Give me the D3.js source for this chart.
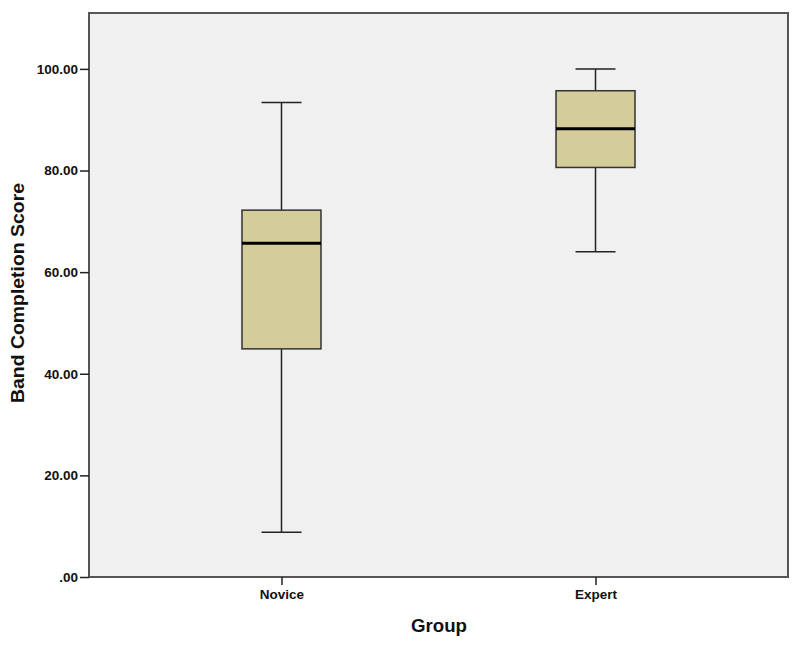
<!DOCTYPE html>
<html><head><meta charset="utf-8">
<script src="https://cdn.jsdelivr.net/npm/d3@7"></script>
<style>body{margin:0;background:#fff}svg{display:block}</style>
</head><body>
<svg id="c" width="800" height="645"></svg>
<script>
const categories = ["Novice", "Expert"];
const whiskerLow = [8.8, 64.0];
const q1 = [44.9, 80.6];
const median = [65.7, 88.2];
const q3 = [72.2, 95.7];
const whiskerHigh = [93.4, 100.0];
const yTicks = [0, 20, 40, 60, 80, 100];
const yTickLabels = [".00", "20.00", "40.00", "60.00", "80.00", "100.00"];

const svg = d3.select("#c");
const L = 89, R = 788, T = 13, B = 577;
const y = d3.scaleLinear().domain([0, 111]).range([B, T]);
const x = d3.scalePoint().domain(categories).range([L, R]).padding(0.613);
const boxW = 79, capW = 40;
const FONT = "Liberation Sans, Arial, sans-serif";

svg.append("rect").attr("x", L).attr("y", T).attr("width", R - L).attr("height", B - T)
  .attr("fill", "#f0f0f0").attr("stroke", "#555").attr("stroke-width", 2);

const data = categories.map((c, i) => ({c, lo: whiskerLow[i], q1: q1[i], med: median[i], q3: q3[i], hi: whiskerHigh[i]}));
const g = svg.append("g");
data.forEach(d => {
  const cx = x(d.c);
  g.append("line").attr("x1", cx).attr("x2", cx).attr("y1", y(d.hi)).attr("y2", y(d.q3)).attr("stroke", "#222").attr("stroke-width", 1.5);
  g.append("line").attr("x1", cx).attr("x2", cx).attr("y1", y(d.q1)).attr("y2", y(d.lo)).attr("stroke", "#222").attr("stroke-width", 1.5);
  g.append("line").attr("x1", cx - capW/2).attr("x2", cx + capW/2).attr("y1", y(d.hi)).attr("y2", y(d.hi)).attr("stroke", "#222").attr("stroke-width", 1.5);
  g.append("line").attr("x1", cx - capW/2).attr("x2", cx + capW/2).attr("y1", y(d.lo)).attr("y2", y(d.lo)).attr("stroke", "#222").attr("stroke-width", 1.5);
  g.append("rect").attr("x", cx - boxW/2).attr("y", y(d.q3)).attr("width", boxW).attr("height", y(d.q1) - y(d.q3))
    .attr("fill", "#d4cc9a").attr("stroke", "#333").attr("stroke-width", 1.5);
  g.append("line").attr("x1", cx - boxW/2).attr("x2", cx + boxW/2).attr("y1", y(d.med)).attr("y2", y(d.med)).attr("stroke", "#000").attr("stroke-width", 3);
});

const yAxis = d3.axisLeft(y).tickValues(yTicks).tickSize(9).tickPadding(2)
  .tickFormat((d, i) => yTickLabels[i]);
const ya = svg.append("g").attr("transform", `translate(${L},0)`).call(yAxis);
ya.select(".domain").remove();
ya.selectAll("line").attr("stroke", "#222").attr("stroke-width", 1.5);
ya.selectAll("text").attr("font-family", FONT).attr("font-weight", "bold").attr("font-size", 13.5).attr("fill", "#111");

const xAxis = d3.axisBottom(x).tickSize(8).tickPadding(4);
const xa = svg.append("g").attr("transform", `translate(0,${B})`).call(xAxis);
xa.select(".domain").remove();
xa.selectAll("line").attr("stroke", "#222").attr("stroke-width", 1.5);
xa.selectAll("text").attr("font-family", FONT).attr("font-weight", "bold").attr("font-size", 13.5).attr("fill", "#111");

svg.append("text").attr("x", 439).attr("y", 632).attr("text-anchor", "middle")
  .attr("font-family", FONT).attr("font-weight", "bold").attr("font-size", 18).attr("fill", "#111")
  .attr("textLength", 56).attr("lengthAdjust", "spacingAndGlyphs").text("Group");
svg.append("text").attr("transform", `translate(24,293) rotate(-90)`).attr("text-anchor", "middle")
  .attr("font-family", FONT).attr("font-weight", "bold").attr("font-size", 17.5).attr("fill", "#111")
  .attr("textLength", 220).attr("lengthAdjust", "spacingAndGlyphs").text("Band Completion Score");
</script>
</body></html>
